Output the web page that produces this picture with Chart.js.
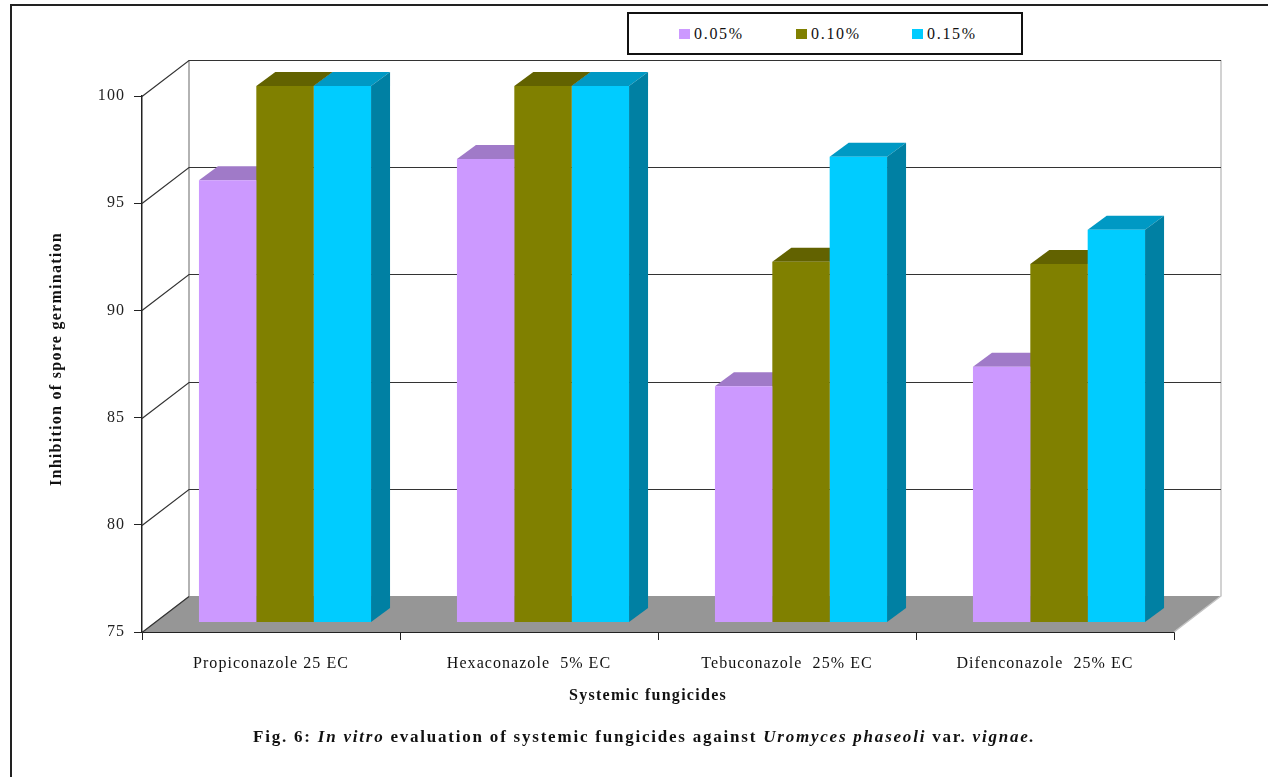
<!DOCTYPE html>
<html lang="en">
<head>
  <meta charset="UTF-8">
  <title>Systemic fungicides</title>
  <script src="https://cdn.jsdelivr.net/npm/chart.js"></script>
  <style>
    html, body {
      margin: 0;
      background: #fff;
    }
    #page {
      position: relative;
      width: 1268px;
      height: 777px;
      overflow: hidden;
      font-family: "Liberation Serif", serif;
      color: #111;
    }
    #myChart {
      position: absolute;
      left: 0;
      top: 0;
    }
    .frame-top {
      position: absolute;
      left: 10px;
      right: 0;
      top: 4px;
      height: 2px;
      background: #222;
    }
    .frame-left {
      position: absolute;
      left: 10px;
      top: 4px;
      bottom: 0;
      width: 2px;
      background: #222;
    }
    #legend {
      position: absolute;
      left: 627px;
      top: 12px;
      width: 392px;
      height: 39px;
      border: 2px solid #111;
      background: #fff;
    }
    .legend-item {
      position: absolute;
      top: 11px;
      font-size: 16px;
      line-height: 17px;
      letter-spacing: 1.7px;
      white-space: nowrap;
    }
    .legend-item i {
      display: inline-block;
      width: 11px;
      height: 10px;
      margin-right: 4px;
    }
    #caption {
      position: absolute;
      left: 253px;
      top: 728px;
      font-size: 17px;
      font-weight: bold;
      line-height: 18px;
      letter-spacing: 1.78px;
      white-space: nowrap;
    }
  </style>
</head>
<body>
  <div id="page">
    <canvas id="myChart" width="1268" height="777"></canvas>
    <div class="frame-top"></div>
    <div class="frame-left"></div>
    <div id="legend"></div>
    <div id="caption"></div>
  </div>

  <script>
    const categories = ['Propiconazole 25 EC', 'Hexaconazole  5% EC', 'Tebuconazole  25% EC', 'Difenconazole  25% EC'];
    const seriesNames = ['0.05%', '0.10%', '0.15%'];
    const values005 = [95.6, 96.6, 86.0, 86.9];
    const values010 = [100, 100, 91.8, 91.7];
    const values015 = [100, 100, 96.7, 93.3];
    const frontColors = ['#CC99FF', '#808000', '#00CCFF'];
    const topColors = ['#A07AC8', '#626200', '#0099C4'];
    const sideColors = ['#7F60A0', '#4D4D00', '#0080A3'];

    // depth of the walls, and of the bars standing on the floor
    const wallDepth = { x: 47, y: -36 };
    const barDepth = { x: 19, y: -14 };
    const barShift = { x: 14, y: -10 };

    const serif = '"Liberation Serif", serif';

    const box3d = {
      id: 'box3d',
      beforeDraw(chart) {
        // Chart.js has no tick letter spacing option, so it goes on the context
        chart.ctx.letterSpacing = '1.05px';
      },
      // walls and floor go under everything, the bar tops and sides under the bar fronts
      beforeDatasetsDraw(chart) {
        const { ctx, chartArea: a, scales: { y } } = chart;
        const wx = wallDepth.x, wy = wallDepth.y;

        ctx.save();
        ctx.fillStyle = '#969696';
        ctx.beginPath();
        ctx.moveTo(a.left, a.bottom);
        ctx.lineTo(a.left + wx, a.bottom + wy);
        ctx.lineTo(a.right + wx, a.bottom + wy);
        ctx.lineTo(a.right, a.bottom);
        ctx.closePath();
        ctx.fill();

        ctx.lineWidth = 1.5;
        ctx.strokeStyle = '#9a9a9a';
        ctx.beginPath();
        ctx.moveTo(a.left + wx, a.top + wy);
        ctx.lineTo(a.left + wx, a.bottom + wy);
        ctx.stroke();
        ctx.strokeStyle = '#c4c4c4';
        ctx.beginPath();
        ctx.moveTo(a.right + wx, a.top + wy);
        ctx.lineTo(a.right + wx, a.bottom + wy);
        ctx.lineTo(a.right, a.bottom);
        ctx.stroke();

        ctx.lineWidth = 1.2;
        y.ticks.forEach(t => {
          const py = Math.round(y.getPixelForValue(t.value)) + 0.5;
          ctx.strokeStyle = '#333';
          ctx.beginPath();
          ctx.moveTo(a.left, py);
          ctx.lineTo(a.left + wx, py + wy);
          if (t.value > y.min) {
            ctx.lineTo(a.right + wx, py + wy);
          }
          ctx.stroke();
        });

        // the bars stand back from the front plane of the floor
        ctx.translate(barShift.x, barShift.y);
        const b = y.getPixelForValue(y.min);
        chart.data.datasets.forEach((ds, d) => {
          chart.getDatasetMeta(d).data.forEach(bar => {
            const l = bar.x - bar.width / 2, r = bar.x + bar.width / 2;
            const t = bar.y;
            ctx.fillStyle = topColors[d];
            ctx.beginPath();
            ctx.moveTo(l, t);
            ctx.lineTo(l + barDepth.x, t + barDepth.y);
            ctx.lineTo(r + barDepth.x, t + barDepth.y);
            ctx.lineTo(r, t);
            ctx.closePath();
            ctx.fill();
            ctx.fillStyle = sideColors[d];
            ctx.beginPath();
            ctx.moveTo(r, t);
            ctx.lineTo(r + barDepth.x, t + barDepth.y);
            ctx.lineTo(r + barDepth.x, b + barDepth.y);
            ctx.lineTo(r, b);
            ctx.closePath();
            ctx.fill();
          });
        });
      },
      afterDatasetsDraw(chart) {
        chart.ctx.restore();
      },
      afterDraw(chart) {
        const { ctx, chartArea: a } = chart;
        ctx.save();
        ctx.fillStyle = '#111';
        ctx.font = 'bold 16px ' + serif;
        ctx.letterSpacing = '1.28px';
        ctx.textAlign = 'center';
        ctx.textBaseline = 'middle';
        ctx.fillText('Systemic fungicides', a.left + 506, a.bottom + 64);
        ctx.translate(57, 359);
        ctx.rotate(-Math.PI / 2);
        ctx.fillText('Inhibition of spore germination', 0, 0);
        ctx.restore();
      }
    };

    new Chart(document.getElementById('myChart'), {
      type: 'bar',
      data: {
        labels: categories,
        datasets: [values005, values010, values015].map((vals, i) => ({
          label: seriesNames[i],
          data: vals,
          backgroundColor: frontColors[i],
          borderWidth: 0,
          barPercentage: 1,
          categoryPercentage: 0.667,
          order: i
        }))
      },
      options: {
        responsive: false,
        animation: false,
        events: [],
        layout: { padding: { left: 42, top: 96, right: 94, bottom: 85 } },
        plugins: { legend: { display: false }, tooltip: { enabled: false } },
        scales: {
          x: {
            afterFit: s => { s.height = 60; },
            border: { color: '#222', width: 2 },
            grid: { drawOnChartArea: false, color: '#222', tickLength: 8 },
            ticks: {
              color: '#111',
              maxRotation: 0,
              padding: 14,
              font: { family: serif, size: 16 }
            }
          },
          y: {
            min: 75,
            max: 100,
            afterFit: s => { s.width = 100; },
            border: { color: '#222', width: 1.5 },
            grid: { drawOnChartArea: false, color: '#222', tickLength: 8 },
            ticks: {
              stepSize: 5,
              color: '#222',
              padding: 9,
              font: { family: serif, size: 16 }
            }
          }
        }
      },
      plugins: [box3d]
    });

    // legend row
    const legendLeft = [50, 167, 283];
    const legend = document.getElementById('legend');
    seriesNames.forEach((name, i) => {
      const item = document.createElement('div');
      item.className = 'legend-item';
      item.style.left = legendLeft[i] + 'px';
      const swatch = document.createElement('i');
      swatch.style.background = frontColors[i];
      item.append(swatch, name);
      legend.append(item);
    });

    document.getElementById('caption').innerHTML =
      'Fig. 6: <em>In vitro</em> evaluation of systemic fungicides against <em>Uromyces phaseoli</em> var. <em>vignae.</em>';
  </script>
</body>
</html>
